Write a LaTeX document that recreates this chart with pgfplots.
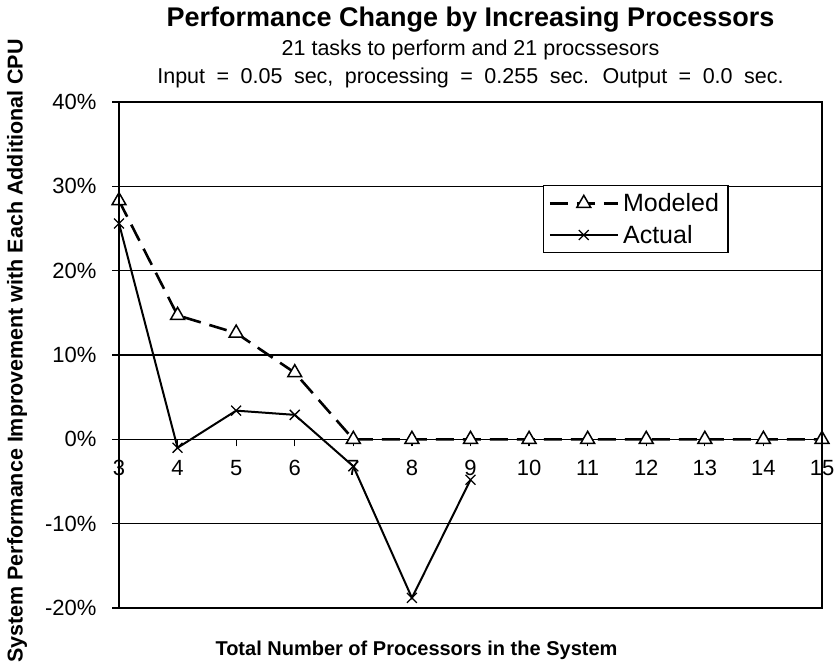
\documentclass[border=0pt]{standalone}
\usepackage{fontspec}
\setmainfont{Liberation Sans}
\usepackage{pgfplots}
\pgfplotsset{compat=1.18}
\begin{document}
\begin{tikzpicture}
\begin{axis}[
  name=ax,
  scale only axis,
  width=703pt, height=506pt,
  xmin=3, xmax=15, ymin=-20, ymax=40,
  axis x line=middle, axis y line=left,
  axis line style={-, line width=1.4pt},
  hide obscured x ticks=false, hide obscured y ticks=false,
  xtick={3,...,15}, ytick={-20,-10,0,10,20,30,40},
  ymajorgrids, grid style={black, line width=1.4pt},
  tick align=outside, major tick length=7pt,
  tick style={black, line width=1.2pt},
  /pgf/number format/assume math mode=true,
  ticklabel style={font=\fontsize{22}{24}\selectfont},
  yticklabel={\pgfmathprintnumber{\tick}\%},
  xticklabel style={anchor=north, text height=16pt, text depth=0pt, yshift=-10pt},
  yticklabel style={xshift=-12pt},
  legend style={at={(0.603,0.836)}, anchor=north west, draw=black, line width=1.2pt,
    font=\fontsize{25}{30}\selectfont, row sep=8pt, inner xsep=5pt, inner ysep=6pt,
    legend cell align=left, nodes={inner xsep=4pt}},
  legend image code/.code={\draw[mark repeat=2,mark phase=2] plot coordinates {(0pt,0pt) (34pt,0pt) (68pt,0pt)};},
  clip=false,
]
\addplot[black, line width=2.6pt, dash pattern=on 18pt off 9pt, mark=triangle*,
  mark size=8pt, mark options={solid, fill=white, line width=1.5pt}]
  coordinates {(3,28.3) (4,14.7) (5,12.6) (6,7.9) (7,0) (8,0) (9,0) (10,0) (11,0) (12,0) (13,0) (14,0) (15,0)};
\addlegendentry{Modeled}
\addplot[black, line width=2pt, mark=x, mark size=7pt, mark options={solid, line width=1.3pt}]
  coordinates {(3,25.6) (4,-1.0) (5,3.4) (6,2.9) (7,-3.2) (8,-18.8) (9,-4.8)};
\addlegendentry{Actual}
\end{axis}
\draw[line width=1.4pt] (ax.south west) rectangle (ax.north east);
\node[font=\bfseries\fontsize{27}{29}\selectfont] at ([yshift=82pt]ax.north) {Performance Change by Increasing Processors};
\node[font=\fontsize{21.5}{24}\selectfont] at ([yshift=52pt]ax.north) {21 tasks to perform and 21 procssesors};
\node[font=\fontsize{21.5}{24}\selectfont] at ([yshift=24pt]ax.north) {\spaceskip=11.5pt plus 0pt Input = 0.05 sec, processing = 0.255 sec. Output = 0.0 sec.};
\node[font=\bfseries\fontsize{21.5}{23}\selectfont, rotate=90] at ([xshift=-102pt,yshift=4pt]ax.west) {System Performance Improvement with Each Additional CPU};
\node[font=\bfseries\fontsize{20}{22}\selectfont] at ([xshift=-54pt,yshift=-42pt]ax.south) {Total Number of Processors in the System};
\pgfresetboundingbox
\path ([xshift=-119pt,yshift=-59pt]ax.south west) rectangle ([xshift=14pt,yshift=102pt]ax.north east);
\end{tikzpicture}
\end{document}
